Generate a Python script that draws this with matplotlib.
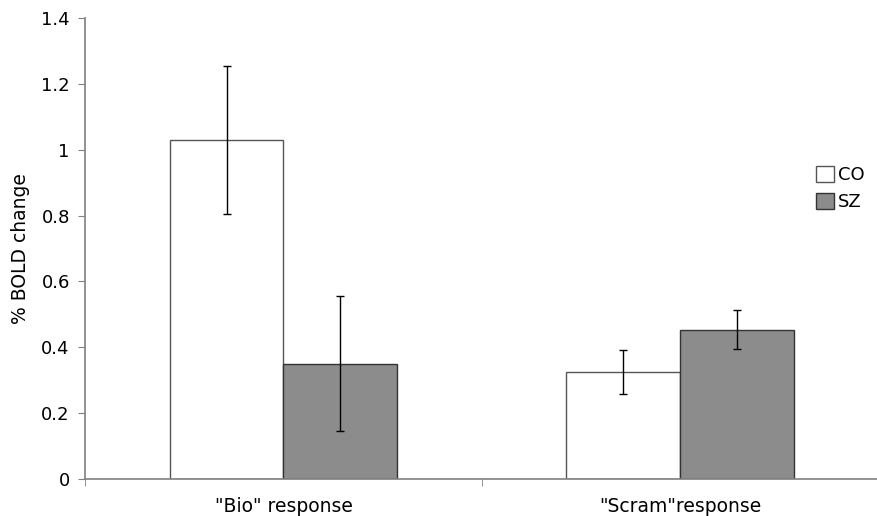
import matplotlib
matplotlib.use('Agg')
import matplotlib.pyplot as plt
import numpy as np

plt.rcParams['font.family'] = ['DejaVu Sans']

# data
categories = ['"Bio" response', '"Scram"response']
groups = ['CO', 'SZ']
co_vals = [1.03, 0.325]
sz_vals = [0.35, 0.453]
co_err = [0.225, 0.067]
sz_err = [0.205, 0.059]

fig = plt.figure(figsize=(8.77, 5.16), dpi=100)
ax = fig.add_axes([0.097, 0.072, 0.905, 0.893])

x = np.arange(len(categories))
w = 0.287

ax.bar(x - w / 2, co_vals, w, color='white', edgecolor='#555555', linewidth=1.0, label=groups[0])
ax.bar(x + w / 2, sz_vals, w, color='#8c8c8c', edgecolor='#333333', linewidth=1.0, label=groups[1])
ax.errorbar(x - w / 2, co_vals, yerr=co_err, fmt='none', ecolor='black', elinewidth=1, capsize=3, capthick=1)
ax.errorbar(x + w / 2, sz_vals, yerr=sz_err, fmt='none', ecolor='black', elinewidth=1, capsize=3, capthick=1)

ax.set_xlim(-0.5, 1.5)
ax.set_ylim(0, 1.4)
ax.set_yticks([0, 0.2, 0.4, 0.6, 0.8, 1, 1.2, 1.4])
ax.set_yticklabels(['0', '0.2', '0.4', '0.6', '0.8', '1', '1.2', '1.4'], fontsize=13)

# category labels without tick marks, ticks on boundaries instead
ax.set_xticks(x)
ax.set_xticklabels(categories, fontsize=13.5)
ax.tick_params(axis='x', which='major', length=0, pad=13)
ax.set_xticks([-0.5, 0.5, 1.5], minor=True)
ax.tick_params(axis='x', which='minor', length=5, color='#808080', direction='out')
ax.tick_params(axis='y', length=5, color='#808080', direction='out', pad=6)

for s in ['top', 'right']:
    ax.spines[s].set_visible(False)
for s in ['left', 'bottom']:
    ax.spines[s].set_color('#808080')
    ax.spines[s].set_linewidth(1.2)

ax.set_ylabel('% BOLD change', fontsize=13.5, labelpad=8)

ax.legend(loc='center left', bbox_to_anchor=(0.912, 0.63), frameon=False, fontsize=13,
          handlelength=1.0, handleheight=1.0, handletextpad=0.2, labelspacing=0.5, borderaxespad=0)

fig.savefig('out.png', dpi=100)
